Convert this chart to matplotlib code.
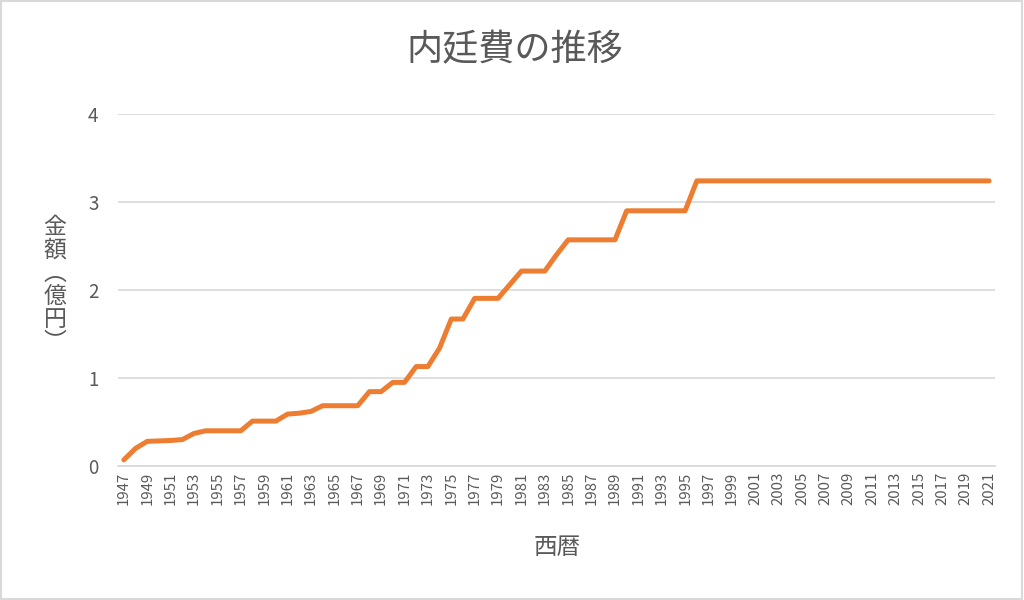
import matplotlib
matplotlib.use("Agg")
import matplotlib.pyplot as plt
from matplotlib.patches import Rectangle

plt.rcParams['font.family'] = ['Noto Sans CJK JP', 'DejaVu Sans']

title = "内廷費の推移"
xlabel = "西暦"
ylabel_chars = ["金", "額", "︵", "億", "円", "︶"]

years = list(range(1947, 2022))
values = [0.07, 0.20, 0.28, 0.285, 0.29, 0.30, 0.37, 0.40, 0.40, 0.40,
          0.40, 0.51, 0.51, 0.51, 0.59, 0.60, 0.62, 0.685, 0.685, 0.685,
          0.685, 0.845, 0.845, 0.95, 0.95, 1.13, 1.13, 1.34, 1.67, 1.67,
          1.905, 1.905, 1.905, 2.06, 2.215, 2.215, 2.215, 2.40, 2.57, 2.57,
          2.57, 2.57, 2.57, 2.90, 2.90, 2.90, 2.90, 2.90, 2.90, 3.24]
values += [3.24] * (len(years) - len(values))

yticks = [0, 1, 2, 3, 4]
xtick_years = years[::2]

grey = "#595959"
grid_c = "#d9d9d9"
orange = "#ED7D31"

fig = plt.figure(figsize=(10.24, 6.0), dpi=100)
ax = fig.add_axes([118/1024, 1 - 466/600, (995-118)/1024, (466-114)/600])

ax.plot(years, values, color=orange, linewidth=3.6, solid_capstyle='round',
        solid_joinstyle='round', zorder=3)

ax.set_xlim(years[0] - 0.5, years[-1] + 0.5)
ax.set_ylim(0, 4)
ax.set_yticks(yticks)
ax.set_yticklabels([str(t) for t in yticks], fontsize=13.5, color=grey)
ax.set_xticks(xtick_years)
ax.set_xticklabels([str(y) for y in xtick_years], rotation=90, fontsize=10.8, color=grey)
ax.tick_params(axis='both', length=0)
ax.tick_params(axis='y', pad=14)
ax.tick_params(axis='x', pad=4)
ax.grid(axis='y', color=grid_c, linewidth=1.2)
ax.set_axisbelow(True)
for s in ['top', 'right', 'left']:
    ax.spines[s].set_visible(False)
ax.spines['bottom'].set_color(grid_c)
ax.spines['bottom'].set_linewidth(1.2)

fig.text(515/1024, 1 - 50/600, title, ha='center', va='center', fontsize=26, color=grey)
fig.text(557/1024, 1 - 547/600, xlabel, ha='center', va='center', fontsize=17, color=grey)
fig.text(55/1024, 1 - 285/600, "\n".join(ylabel_chars), ha='center', va='center',
         fontsize=16.5, color=grey, linespacing=1.0)

fig.patches.append(Rectangle((0.001, 0.002), 0.997, 0.996, transform=fig.transFigure,
                             fill=False, edgecolor=grid_c, linewidth=1.5))

fig.savefig("out.png", dpi=100, facecolor="white")
